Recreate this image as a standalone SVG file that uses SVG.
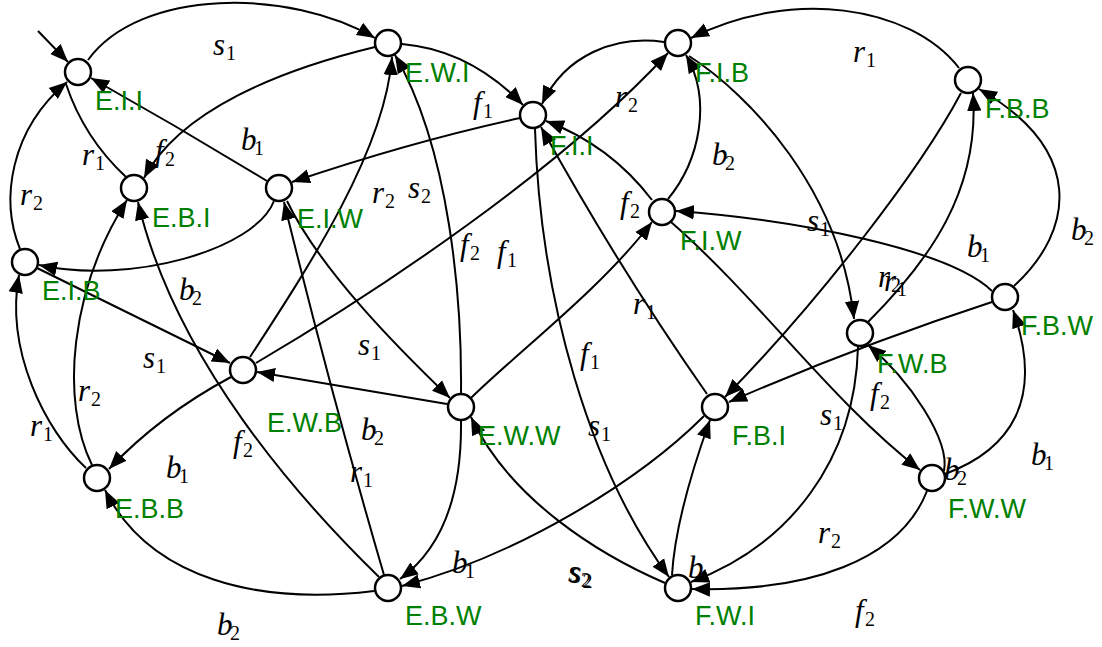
<svg xmlns="http://www.w3.org/2000/svg" width="1102" height="647" viewBox="0 0 1102 647">
<style>
.e{fill:none;stroke:#000;stroke-width:2;marker-end:url(#a)}
.n{fill:#fff;stroke:#000;stroke-width:2.5}
.nl{font-family:"Liberation Sans",Arial,sans-serif;font-size:27px;fill:#008000}
.m{font-family:"Liberation Serif","Times New Roman",serif;font-size:31px;font-style:italic;fill:#000}
.s{font-size:20px;font-style:normal}
</style>
<defs>
<marker id="a" markerWidth="19" markerHeight="16" refX="18" refY="8" orient="auto" markerUnits="userSpaceOnUse">
<path d="M0,0.8 L18,8 L0,15.2 Z" fill="#000"/>
</marker>
</defs>
<g id="connectors">
<path class="e" d="M38,31 L68,62"/>
<path class="e" d="M88,60 C140,-12 290,-12 375,38"/>
<path class="e" d="M267,181 Q180,128 91,78"/>
<path class="e" d="M66,84 Q84,138 126,177" style="marker-end:none"/>
<path class="e" d="M20,249 C0,200 10,130 67,82"/>
<path class="e" d="M375,47 C280,70 180,110 144,178"/>
<path class="e" d="M520,118 Q410,142 292,182"/>
<path class="e" d="M402,44 Q470,50 523,105"/>
<path class="e" d="M274,201 C255,250 130,285 39,265"/>
<path class="e" d="M37,268 L230,363"/>
<path class="e" d="M250,357 C310,265 385,150 392,57"/>
<path class="e" d="M256,363 C380,290 560,170 668,53"/>
<path class="e" d="M447,404 L257,372"/>
<path class="e" d="M287,201 C320,270 400,350 450,398"/>
<path class="e" d="M231,377 Q160,415 109,469"/>
<path class="e" d="M86,468 C45,430 5,350 19,275"/>
<path class="e" d="M92,465 C60,400 70,290 127,200"/>
<path class="e" d="M379,577 C300,500 175,360 138,202"/>
<path class="e" d="M384,575 Q330,390 284,202"/>
<path class="e" d="M374,591 C260,605 150,580 105,490"/>
<path class="e" d="M461,421 C462,500 440,550 400,579"/>
<path class="e" d="M704,416 C640,480 520,555 402,586"/>
<path class="e" d="M471,398 C520,350 600,290 652,222"/>
<path class="e" d="M665,583 C600,555 510,500 471,417"/>
<path class="e" d="M461,393 C462,300 450,150 395,55"/>
<path class="e" d="M664,42 C615,35 565,55 542,104"/>
<path class="e" d="M959,68 C910,5 790,-12 691,38"/>
<path class="e" d="M668,199 C700,160 712,100 686,55"/>
<path class="e" d="M652,200 Q610,145 546,121"/>
<path class="e" d="M707,394 Q620,270 541,127"/>
<path class="e" d="M535,129 C540,300 590,470 669,577"/>
<path class="e" d="M689,56 C750,95 840,190 854,319"/>
<path class="e" d="M992,291 C950,250 800,220 676,211"/>
<path class="e" d="M1014,286 C1075,230 1085,150 979,89"/>
<path class="e" d="M868,322 C930,260 980,190 973,93"/>
<path class="e" d="M961,93 C920,170 820,300 725,397"/>
<path class="e" d="M992,302 Q860,345 729,402"/>
<path class="e" d="M671,222 C760,300 830,400 920,470"/>
<path class="e" d="M858,347 C855,460 790,545 691,582"/>
<path class="e" d="M944,471 C950,440 910,380 868,345"/>
<path class="e" d="M945,474 C1010,450 1045,400 1013,310"/>
<path class="e" d="M927,491 C900,560 810,592 692,589"/>
<path class="e" d="M672,575 C675,525 692,470 710,420"/>
</g>
<g id="EII"><circle class="n" cx="78" cy="72" r="13"/><text class="nl" x="95" y="110">E.I.I</text></g>
<g id="EWI"><circle class="n" cx="388" cy="43" r="13"/><text class="nl" x="405" y="82">E.W.I</text></g>
<g id="FII"><circle class="n" cx="533" cy="115" r="13"/><text class="nl" x="550" y="155">F.I.I</text></g>
<g id="FIB"><circle class="n" cx="678" cy="43" r="13"/><text class="nl" x="695" y="82">F.I.B</text></g>
<g id="FBB"><circle class="n" cx="968" cy="80" r="13"/><text class="nl" x="985" y="118">F.B.B</text></g>
<g id="EBI"><circle class="n" cx="134" cy="188" r="13"/><text class="nl" x="152" y="227">E.B.I</text></g>
<g id="EIW"><circle class="n" cx="279" cy="188" r="13"/><text class="nl" x="297" y="228">E.I.W</text></g>
<g id="FIW"><circle class="n" cx="662" cy="212" r="13"/><text class="nl" x="680" y="250">F.I.W</text></g>
<g id="EIB"><circle class="n" cx="25" cy="262" r="13"/><text class="nl" x="42" y="300">E.I.B</text></g>
<g id="FBW"><circle class="n" cx="1005" cy="297" r="13"/><text class="nl" x="1021" y="335">F.B.W</text></g>
<g id="FWB"><circle class="n" cx="860" cy="333" r="13"/><text class="nl" x="877" y="373">F.W.B</text></g>
<g id="EWB"><circle class="n" cx="243" cy="370" r="13"/><text class="nl" x="267" y="432">E.W.B</text></g>
<g id="EWW"><circle class="n" cx="461" cy="407" r="13"/><text class="nl" x="478" y="445">E.W.W</text></g>
<g id="FBI"><circle class="n" cx="715" cy="407" r="13"/><text class="nl" x="732" y="445">F.B.I</text></g>
<g id="EBB"><circle class="n" cx="97" cy="478" r="13"/><text class="nl" x="115" y="518">E.B.B</text></g>
<g id="FWW"><circle class="n" cx="932" cy="478" r="13"/><text class="nl" x="948" y="518">F.W.W</text></g>
<g id="EBW"><circle class="n" cx="388" cy="588" r="13"/><text class="nl" x="405" y="625">E.B.W</text></g>
<g id="FWI"><circle class="n" cx="678" cy="588" r="13"/><text class="nl" x="695" y="625">F.W.I</text></g>
<g id="labels">
<text class="m" x="213" y="55">s<tspan class="s" x="226" dy="5">1</tspan></text>
<text class="m" x="155" y="161">f<tspan class="s" x="165" dy="5">2</tspan></text>
<text class="m" x="82" y="165">r<tspan class="s" x="95" dy="5">1</tspan></text>
<text class="m" x="241" y="150">b<tspan class="s" x="254" dy="5">1</tspan></text>
<text class="m" x="20" y="205">r<tspan class="s" x="33" dy="5">2</tspan></text>
<text class="m" x="372" y="203">r<tspan class="s" x="385" dy="5">2</tspan></text>
<text class="m" x="408" y="198">s<tspan class="s" x="421" dy="5">2</tspan></text>
<text class="m" x="473" y="113">f<tspan class="s" x="483" dy="5">1</tspan></text>
<text class="m" x="615" y="107">r<tspan class="s" x="628" dy="5">2</tspan></text>
<text class="m" x="712" y="165">b<tspan class="s" x="725" dy="5">2</tspan></text>
<text class="m" x="620" y="213">f<tspan class="s" x="630" dy="5">2</tspan></text>
<text class="m" x="853" y="62">r<tspan class="s" x="866" dy="5">1</tspan></text>
<text class="m" x="807" y="231">s<tspan class="s" x="820" dy="5">1</tspan></text>
<text class="m" x="967" y="257">b<tspan class="s" x="980" dy="5">1</tspan></text>
<text class="m" x="1071" y="240">b<tspan class="s" x="1084" dy="5">2</tspan></text>
<text class="m" x="878" y="287">r<tspan class="s" x="891" dy="5">2</tspan></text>
<text class="m" x="884" y="291">r<tspan class="s" x="897" dy="5">1</tspan></text>
<text class="m" x="460" y="255">f<tspan class="s" x="470" dy="5">2</tspan></text>
<text class="m" x="497" y="262">f<tspan class="s" x="507" dy="5">1</tspan></text>
<text class="m" x="179" y="300">b<tspan class="s" x="192" dy="5">2</tspan></text>
<text class="m" x="633" y="314">r<tspan class="s" x="646" dy="5">1</tspan></text>
<text class="m" x="143" y="368">s<tspan class="s" x="156" dy="5">1</tspan></text>
<text class="m" x="358" y="355">s<tspan class="s" x="371" dy="5">1</tspan></text>
<text class="m" x="580" y="364">f<tspan class="s" x="590" dy="5">1</tspan></text>
<text class="m" x="78" y="401">r<tspan class="s" x="91" dy="5">2</tspan></text>
<text class="m" x="870" y="404">f<tspan class="s" x="880" dy="5">2</tspan></text>
<text class="m" x="30" y="436">r<tspan class="s" x="43" dy="5">1</tspan></text>
<text class="m" x="361" y="440">b<tspan class="s" x="374" dy="5">2</tspan></text>
<text class="m" x="233" y="452">f<tspan class="s" x="243" dy="5">2</tspan></text>
<text class="m" x="588" y="436">s<tspan class="s" x="601" dy="5">1</tspan></text>
<text class="m" x="820" y="425">s<tspan class="s" x="833" dy="5">1</tspan></text>
<text class="m" x="166" y="478">b<tspan class="s" x="179" dy="5">1</tspan></text>
<text class="m" x="350" y="482">r<tspan class="s" x="363" dy="5">1</tspan></text>
<text class="m" x="944" y="480">b<tspan class="s" x="957" dy="5">2</tspan></text>
<text class="m" x="1031" y="465">b<tspan class="s" x="1044" dy="5">1</tspan></text>
<text class="m" x="818" y="543">r<tspan class="s" x="831" dy="5">2</tspan></text>
<text class="m" x="452" y="573">b<tspan class="s" x="465" dy="5">1</tspan></text>
<text class="m" x="568" y="582">s<tspan class="s" x="581" dy="5">2</tspan></text>
<text class="m" x="569.5" y="583">s<tspan class="s" x="582.5" dy="5">2</tspan></text>
<text class="m" x="688" y="578">b</text>
<text class="m" x="217" y="635">b<tspan class="s" x="230" dy="5">2</tspan></text>
<text class="m" x="855" y="621">f<tspan class="s" x="865" dy="5">2</tspan></text>
</g>
</svg>
